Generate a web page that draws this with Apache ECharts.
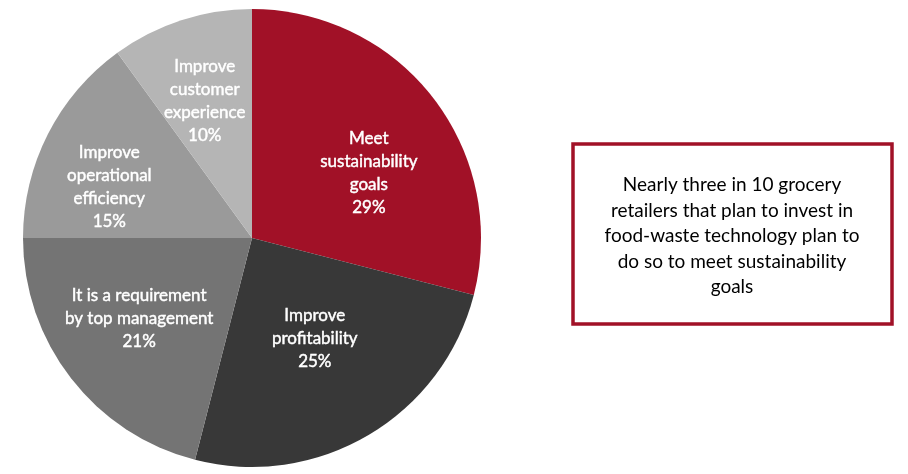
<!DOCTYPE html>
<html>
<head>
<meta charset="utf-8">
<script src="https://cdn.jsdelivr.net/npm/echarts@6/dist/echarts.min.js"></script>
<style>html,body{margin:0;padding:0;background:#fff}#c{width:908px;height:474px}</style>
</head>
<body>
<div id="c"></div>
<script>
const categories = [
  'Meet\nsustainability\ngoals',
  'Improve\nprofitability',
  'It is a requirement\nby top management',
  'Improve\noperational\nefficiency',
  'Improve\ncustomer\nexperience'
];
const values = [29, 25, 21, 15, 10];
const colors = ['#A11127', '#383838', '#747474', '#9A9A9A', '#B5B5B5'];
const labelShift = [[24, 7], [3, -1], [-20, 8], [-38, 2], [-11, -25]];
const calloutText = 'Nearly three in 10 grocery\nretailers that plan to invest in\nfood-waste technology plan to\ndo so to meet sustainability\ngoals';

const chart = echarts.init(document.getElementById('c'), null, {renderer: 'canvas'});
chart.setOption({
  animation: false,
  series: [{
    type: 'pie',
    center: [252, 238],
    radius: [0, 229],
    startAngle: 90,
    clockwise: true,
    data: categories.map((n, i) => ({name: n, value: values[i], itemStyle: {color: colors[i]}})),
    itemStyle: {borderWidth: 0},
    label: {
      show: true,
      position: 'inside',
      formatter: p => p.name + '\n' + p.value + '%',
      color: '#fff',
      fontFamily: 'Lato',
      fontSize: 17,
      lineHeight: 23,
      align: 'center',
      textBorderColor: '#fff',
      textBorderWidth: 0.45
    },
    labelLine: {show: false},
    emphasis: {disabled: true}
  }],
  graphic: [
    {
      type: 'rect',
      shape: {x: 573, y: 144, width: 319, height: 180},
      style: {fill: '#fff', stroke: '#A11127', lineWidth: 3.5}
    },
    {
      type: 'text',
      x: 732, y: 236,
      style: {
        text: calloutText,
        fill: '#000',
        font: '19px Lato',
        lineHeight: 25.5,
        align: 'center',
        verticalAlign: 'middle'
      }
    }
  ]
});
chart.setOption({
  series: [{
    labelLayout: function (params) {
      const s = labelShift[params.dataIndex];
      return {dx: s[0], dy: s[1]};
    }
  }]
});
</script>
</body>
</html>
